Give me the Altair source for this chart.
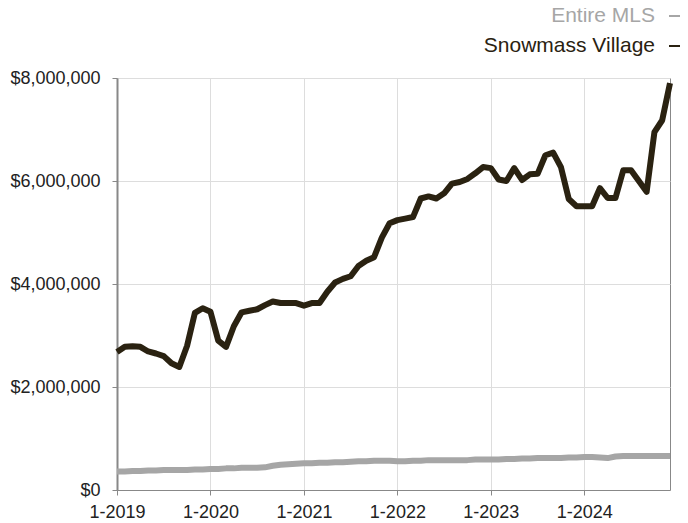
import altair as alt
import pandas as pd

# Monthly index 0 = Jan 2019 ... 71 = Dec 2024
months = list(range(72))

snowmass = [
    2.68, 2.78, 2.79, 2.78, 2.69, 2.65, 2.60, 2.46, 2.39, 2.80, 3.44, 3.53,
    3.46, 2.90, 2.78, 3.18, 3.45, 3.48, 3.51, 3.59, 3.66, 3.63, 3.63, 3.63,
    3.58, 3.63, 3.63, 3.85, 4.03, 4.10, 4.15, 4.35, 4.45, 4.52, 4.90, 5.18,
    5.24, 5.27, 5.30, 5.66, 5.70, 5.66, 5.76, 5.95, 5.98, 6.04, 6.15, 6.27,
    6.25, 6.03, 6.00, 6.25, 6.02, 6.13, 6.14, 6.50, 6.55, 6.27, 5.65, 5.51,
    5.51, 5.51, 5.86, 5.67, 5.67, 6.21, 6.21, 6.00, 5.79, 6.95, 7.18, 7.90,
]

entire_mls = [
    0.36, 0.36, 0.37, 0.37, 0.38, 0.38, 0.39, 0.39, 0.39, 0.39, 0.40, 0.40,
    0.41, 0.41, 0.42, 0.42, 0.43, 0.43, 0.43, 0.44, 0.47, 0.49, 0.50, 0.51,
    0.52, 0.52, 0.53, 0.53, 0.54, 0.54, 0.55, 0.56, 0.56, 0.57, 0.57, 0.57,
    0.56, 0.56, 0.57, 0.57, 0.58, 0.58, 0.58, 0.58, 0.58, 0.58, 0.59, 0.59,
    0.59, 0.59, 0.60, 0.60, 0.61, 0.61, 0.62, 0.62, 0.62, 0.62, 0.63, 0.63,
    0.64, 0.64, 0.63, 0.62, 0.65, 0.66, 0.66, 0.66, 0.66, 0.66, 0.66, 0.66,
]

series_names = ["Entire MLS", "Snowmass Village"]
series_colors = ["#a6a6a6", "#2a2211"]
year_ticks = [0, 12, 24, 36, 48, 60]
y_ticks = [0, 2000000, 4000000, 6000000, 8000000]

rows = []
for i in months:
    rows.append({"m": i, "series": series_names[0], "price": entire_mls[i] * 1e6})
    rows.append({"m": i, "series": series_names[1], "price": snowmass[i] * 1e6})
df = pd.DataFrame(rows)

FONT = "Liberation Sans"

lines = alt.Chart(df).mark_line(strokeWidth=6, strokeJoin="round").encode(
    x=alt.X("m:Q",
            scale=alt.Scale(domain=[0, 71], nice=False, zero=False),
            axis=alt.Axis(values=year_ticks, title=None,
                          labelExpr="'1-' + (2019 + floor(datum.value / 12))",
                          labelFontSize=18, labelFont=FONT, labelColor="#222",
                          tickSize=5, labelPadding=8, tickColor="#888",
                          domainColor="#888", gridColor="#dddddd",
                          labelFlush=False)),
    y=alt.Y("price:Q",
            scale=alt.Scale(domain=[0, 8000000], nice=False),
            axis=alt.Axis(values=y_ticks, title=None, format="$,.0f",
                          labelFontSize=18, labelFont=FONT, labelColor="#222",
                          tickSize=5, labelPadding=12, tickColor="#888",
                          domainColor="#888", domainWidth=2, gridColor="#dddddd")),
    color=alt.Color("series:N",
                    scale=alt.Scale(domain=series_names, range=series_colors),
                    legend=None),
    detail="series:N",
)

legend_layers = []
legend_y = [-62, -32]
for name, col, ly in zip(series_names, series_colors, legend_y):
    t = alt.Chart(pd.DataFrame({"t": [name]})).mark_text(
        align="right", baseline="middle", fontSize=21, font=FONT, color=col
    ).encode(text="t:N", x=alt.value(538), y=alt.value(ly))
    r = alt.Chart(pd.DataFrame({"t": [name]})).mark_rule(
        color=col, strokeWidth=2
    ).encode(x=alt.value(552), x2=alt.value(565), y=alt.value(ly))
    legend_layers += [t, r]

chart = alt.layer(lines, *legend_layers).properties(
    width=553, height=412,
    autosize=alt.AutoSizeParams(type="none"),
    padding={"left": 109, "top": 70, "right": 10, "bottom": 36},
).configure_view(stroke="#888", strokeWidth=1).configure_axis(gridWidth=1)

chart.save("out.html", embed_options={"renderer": "svg", "actions": False})
